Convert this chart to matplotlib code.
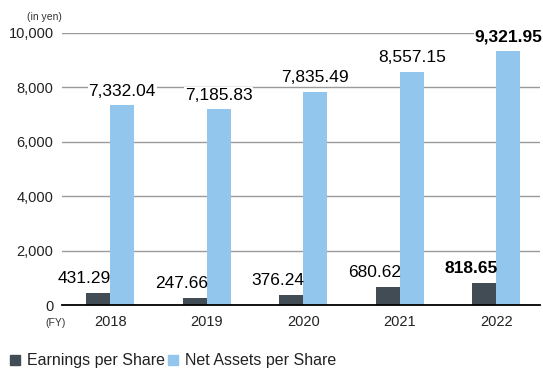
import matplotlib.pyplot as plt
import numpy as np

plt.rcParams['font.family'] = ['Liberation Sans', 'DejaVu Sans']

# data
years = ['2018', '2019', '2020', '2021', '2022']
eps = [431.29, 247.66, 376.24, 680.62, 818.65]
net_assets = [7332.04, 7185.83, 7835.49, 8557.15, 9321.95]

dark = '#414c55'
light = '#93c6ec'

fig = plt.figure(figsize=(5.43, 3.69), dpi=100)
ax = fig.add_axes([0.114, 0.173, 0.88, 0.738])

x = np.arange(len(years))
w = 0.25
ax.bar(x - w / 2, eps, w, color=dark, zorder=3)
ax.bar(x + w / 2, net_assets, w, color=light, zorder=3)

ax.set_xlim(-0.5, 4.45)
ax.set_ylim(0, 10000)
ax.set_yticks(range(0, 10001, 2000))
ax.set_yticklabels(['{:,}'.format(v) for v in range(0, 10001, 2000)], fontsize=10.5, color='#222222')
ax.set_xticks(x)
ax.set_xticklabels(years, fontsize=10.5, color='#222222')
ax.tick_params(axis='both', length=0, pad=6)
ax.tick_params(axis='x', pad=7)

ax.grid(axis='y', color='#9a9a9a', linewidth=1, zorder=0)
for s in ['top', 'right', 'left']:
    ax.spines[s].set_visible(False)
ax.spines['bottom'].set_color('black')
ax.spines['bottom'].set_linewidth(1.3)
ax.spines['bottom'].set_zorder(4)

# value labels
for i in range(len(years)):
    bold = 'bold' if i == len(years) - 1 else 'normal'
    ax.annotate('{:,.2f}'.format(eps[i]), (x[i] + 0.01, eps[i]), xytext=(0, 5),
                textcoords='offset points', ha='right', va='bottom',
                fontsize=12.5, fontweight=bold, zorder=5)
    ax.annotate('{:,.2f}'.format(net_assets[i]), (x[i] + w / 2, net_assets[i]), xytext=(0, 5),
                textcoords='offset points', ha='center', va='bottom',
                fontsize=12.5, fontweight=bold, zorder=5,
                bbox=dict(facecolor='white', edgecolor='none', pad=0.5))

fig.text(0.05, 0.955, '(in yen)', fontsize=7.5, color='#333333', va='center')
fig.text(0.083, 0.125, '(FY)', fontsize=7.5, color='#333333', va='center')

# legend
fig.patches.append(plt.Rectangle((0.018, 0.01), 0.019, 0.028, color=dark, transform=fig.transFigure))
fig.text(0.05, 0.024, 'Earnings per Share', fontsize=11.5, color='#222222', va='center')
fig.patches.append(plt.Rectangle((0.309, 0.01), 0.019, 0.028, color=light, transform=fig.transFigure))
fig.text(0.341, 0.024, 'Net Assets per Share', fontsize=11.5, color='#222222', va='center')

fig.savefig('out.png', dpi=100)
